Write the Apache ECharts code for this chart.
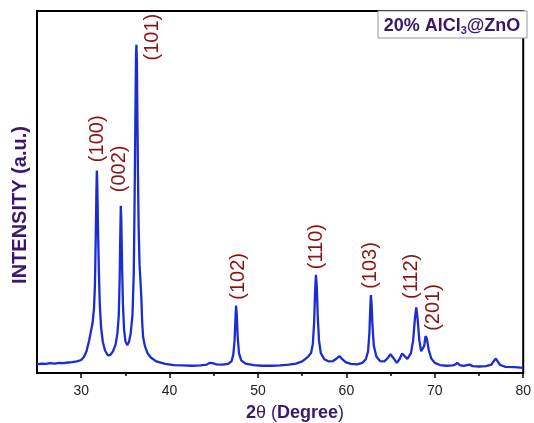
<!DOCTYPE html>
<html><head><meta charset="utf-8">
<script src="https://cdn.jsdelivr.net/npm/echarts@6/dist/echarts.min.js"></script>
<style>html,body{margin:0;padding:0;background:#fff}#c{width:534px;height:423px}</style>
</head><body><div id="c"></div>
<script>
// 2theta (deg) values of the trace
const twoTheta = [25.0,25.5,26.0,26.5,27.0,27.5,28.0,28.5,29.0,29.5,30.0,30.3,30.6,30.9,31.1,31.3,31.45,31.55,31.65,31.72,31.77,31.82,31.9,32.0,32.1,32.25,32.45,32.7,33.0,33.3,33.6,33.9,34.1,34.25,34.35,34.42,34.48,34.54,34.62,34.72,34.85,35.0,35.2,35.4,35.6,35.8,35.95,36.05,36.12,36.2,36.25,36.3,36.36,36.42,36.5,36.6,36.7,36.8,36.9,37.0,37.2,37.5,37.9,38.5,39.5,40.5,41.5,42.5,43.5,44.2,44.5,44.7,44.9,45.3,46.0,46.6,47.0,47.2,47.35,47.45,47.52,47.6,47.7,47.85,48.1,48.6,49.5,50.5,51.5,52.5,53.5,54.3,55.0,55.4,55.7,56.0,56.2,56.35,56.45,56.55,56.65,56.75,56.9,57.1,57.5,58.0,58.5,58.9,59.2,59.5,59.9,60.5,61.2,61.8,62.2,62.45,62.6,62.7,62.77,62.85,62.95,63.1,63.4,63.8,64.3,64.7,64.97,65.3,65.7,66.0,66.3,66.6,66.9,67.3,67.55,67.75,67.9,68.05,68.25,68.45,68.6,68.8,68.95,69.1,69.3,69.6,70.0,70.6,71.3,72.0,72.3,72.55,72.8,73.3,73.9,74.3,75.0,75.8,76.4,76.7,76.9,77.1,77.4,78.0,79.0,80.0];
// intensity (a.u.) at those angles
const intensity = [2.4,2.6,2.5,2.7,2.6,2.8,2.7,2.9,3.0,3.2,3.6,4.4,6.0,9.0,11.5,14,18,24,38,50,55.9,52,40,28,19,12.5,8.5,6.2,4.9,5.0,6.0,8.0,11,16,26,38,46.2,42,30,19,12,8.8,7.7,8.5,11,16,28,50,68,88,90.7,86,70,55,40,30,25.5,21,14,10,7.5,5.5,4.2,3.2,2.5,2.2,2.1,2.0,2.1,2.3,2.8,3.2,2.7,2.4,2.3,2.5,3.2,5,9,15,18.6,16,10,5.5,3.5,2.6,2.2,2.0,2.0,2.1,2.3,2.6,3.2,4.0,4.6,5.5,8,14,22,27.1,24,16,9,5.5,3.8,3.2,3.3,4.0,4.7,3.9,3.0,2.5,2.4,2.8,3.8,6,11,18,21.5,19,13,7.5,4.5,3.3,3.2,4.2,5.2,4.2,2.8,3.8,5.4,4.6,3.9,5.5,9,15,18.1,15,9,6,5.5,7.5,10.2,9.5,6.5,4,2.8,2.2,2.0,2.1,2.3,2.8,2.2,2.0,2.3,1.9,1.8,1.9,2.3,3.4,4.0,3.2,2.2,1.7,1.6,1.4];
// reflection labels and their positions (data coords)
const hklNames = ['(100)','(002)','(101)','(102)','(110)','(103)','(112)','(201)'];
const hklX = [31.8, 34.3, 38.1, 47.8, 56.6, 62.7, 67.4, 69.9];
const hklY = [64.7, 56.4, 92.8, 26.7, 34.9, 29.7, 26.7, 18.1];
const xMajor = [30,40,50,60,70,80];
const xMinor = [35,45,55,65,75];

const chart = echarts.init(document.getElementById('c'), null, {renderer:'canvas'});
const purple = '#38176e';
const ff = 'Liberation Sans, Arial';
chart.setOption({
  animation:false,
  grid:{left:37, right:7, top:11, bottom:50, show:true, borderColor:'#000', borderWidth:2, backgroundColor:'transparent'},
  xAxis:[{
    type:'value', min:25, max:80,
    axisLine:{show:true, lineStyle:{color:'#000', width:2}},
    axisTick:{show:true, inside:false, length:5, lineStyle:{color:'#000', width:1.5}, customValues:xMajor},
    axisLabel:{show:true, customValues:xMajor, margin:11, fontSize:14, color:'#222', fontFamily:ff},
    splitLine:{show:false}
  },{
    type:'value', min:25, max:80, position:'bottom', gridIndex:0,
    axisLine:{show:false},
    axisTick:{show:true, length:3, lineStyle:{color:'#000', width:1.5}, customValues:xMinor},
    axisLabel:{show:false},
    splitLine:{show:false}
  }],
  yAxis:{type:'value', min:0, max:100, axisLine:{show:true, lineStyle:{color:'#000', width:2}}, axisTick:{show:false}, axisLabel:{show:false}, splitLine:{show:false}},
  series:[{
    type:'line', xAxisIndex:0, showSymbol:false, symbol:'none', smooth:false,
    lineStyle:{color:'#1a2cd2', width:2.3},
    data: twoTheta.map((t,i)=>[t,intensity[i]])
  },{
    type:'scatter', xAxisIndex:0, symbolSize:0, itemStyle:{opacity:1},
    label:{show:true, position:'inside', rotate:90, color:'#8a1414', fontSize:20, fontFamily:ff,
      textBorderWidth:0, textBorderColor:'transparent', textShadowBlur:0, opacity:1,
      formatter:p=>p.data[2]},
    data: hklNames.map((n,i)=>[hklX[i], hklY[i], n])
  }],
  graphic:[
    {type:'rect', shape:{x:378, y:11, width:149, height:27}, style:{fill:'#fff', stroke:'#999', lineWidth:1}, z:100},
    {type:'text', x:452, y:26, z:101, style:{
      text:'{b|20% AlCl}{s|3}{b|@ZnO}', align:'center', verticalAlign:'middle',
      rich:{b:{fontSize:18, fontWeight:'bold', fill:purple, fontFamily:ff},
            s:{fontSize:11, fontWeight:'bold', fill:purple, fontFamily:ff, padding:[10,0,0,0]}}
    }},
    {type:'text', x:20, y:205, rotation:Math.PI/2, style:{text:'INTENSITY (a.u.)', align:'center', verticalAlign:'middle', fontSize:20, fontWeight:'bold', fill:purple, fontFamily:ff}},
    {type:'text', x:295, y:413, style:{
      text:'{b|2}{n|θ (}{b|Degree}{n|)}', align:'center', verticalAlign:'middle',
      rich:{b:{fontSize:18, fontWeight:'bold', fill:purple, fontFamily:ff},
            n:{fontSize:18, fill:purple, fontFamily:ff}}
    }}
  ]
});
</script></body></html>
